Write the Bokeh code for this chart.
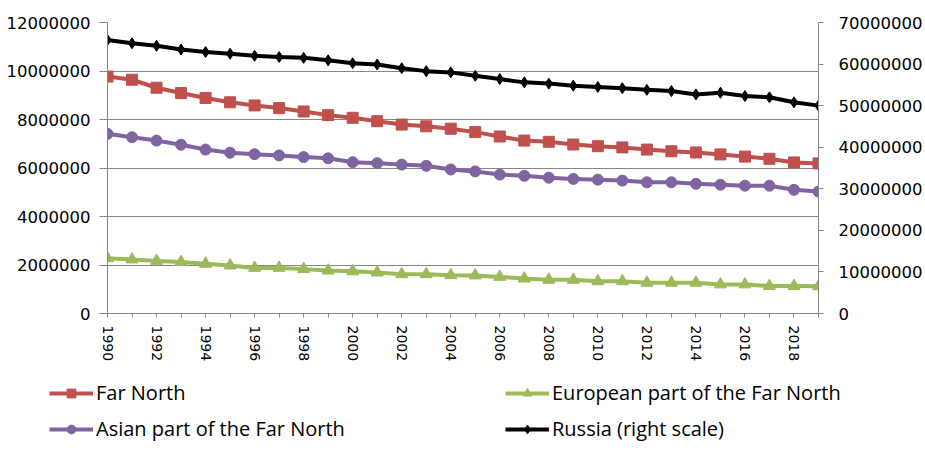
from bokeh.plotting import figure
from bokeh.models import (Range1d, LinearAxis, FixedTicker, NumeralTickFormatter,
                          Legend, LegendItem)
from bokeh.embed import file_html
from bokeh.resources import INLINE

years = [1990, 1991, 1992, 1993, 1994, 1995, 1996, 1997, 1998, 1999,
         2000, 2001, 2002, 2003, 2004, 2005, 2006, 2007, 2008, 2009,
         2010, 2011, 2012, 2013, 2014, 2015, 2016, 2017, 2018, 2019]
x_labels = ["1990", "", "1992", "", "1994", "", "1996", "", "1998", "",
            "2000", "", "2002", "", "2004", "", "2006", "", "2008", "",
            "2010", "", "2012", "", "2014", "", "2016", "", "2018", ""]

far_north = [9770000, 9640000, 9310000, 9090000, 8890000, 8710000, 8580000, 8470000, 8330000, 8180000,
             8070000, 7930000, 7790000, 7720000, 7620000, 7480000, 7300000, 7130000, 7080000, 6970000,
             6900000, 6850000, 6760000, 6690000, 6640000, 6560000, 6470000, 6380000, 6230000, 6190000]
european = [2280000, 2230000, 2170000, 2120000, 2050000, 1980000, 1880000, 1880000, 1830000, 1770000,
            1740000, 1690000, 1620000, 1620000, 1580000, 1570000, 1510000, 1440000, 1390000, 1390000,
            1330000, 1330000, 1270000, 1270000, 1270000, 1200000, 1200000, 1130000, 1130000, 1120000]
asian = [7410000, 7270000, 7130000, 6960000, 6760000, 6630000, 6570000, 6520000, 6450000, 6400000,
         6240000, 6200000, 6140000, 6090000, 5940000, 5860000, 5730000, 5680000, 5600000, 5550000,
         5520000, 5480000, 5410000, 5410000, 5350000, 5310000, 5270000, 5270000, 5100000, 5030000]
russia = [65800000, 65000000, 64400000, 63500000, 62900000, 62500000, 62000000, 61700000, 61500000, 60900000,
          60200000, 59900000, 59000000, 58300000, 58000000, 57200000, 56400000, 55600000, 55300000, 54800000,
          54500000, 54200000, 53800000, 53500000, 52700000, 53100000, 52300000, 52000000, 50800000, 50000000]

series_names = ["Far North", "Asian part of the Far North",
                "European part of the Far North", "Russia (right scale)"]

left_ticks = [0, 2000000, 4000000, 6000000, 8000000, 10000000, 12000000]
right_ticks = [0, 10000000, 20000000, 30000000, 40000000, 50000000, 60000000, 70000000]

RED = "#C0504D"
GREEN = "#9BBB59"
PURPLE = "#8064A2"
BLACK = "#000000"
GRAY = "#868686"

p = figure(frame_width=711, frame_height=291,
           min_border_left=107, min_border_right=106,
           min_border_top=22, min_border_bottom=57,
           x_range=Range1d(1990, 2019), y_range=Range1d(0, 12000000),
           output_backend="svg", toolbar_location=None,
           background_fill_color="white", border_fill_color="white")
p.outline_line_color = None
p.extra_y_ranges = {"right": Range1d(0, 70000000)}

# x axis
xa = p.xaxis[0]
xa.ticker = FixedTicker(ticks=years)
xa.major_label_overrides = {y: lab for y, lab in zip(years, x_labels)}
xa.major_label_orientation = "vertical"
xa.minor_tick_line_color = None
xa.major_tick_out = 4
xa.major_tick_in = 0
xa.major_label_standoff = 8
xa.axis_line_color = GRAY
xa.major_tick_line_color = GRAY
xa.major_label_text_font = "DejaVu Sans"
xa.major_label_text_font_size = "14px"
xa.major_label_text_color = "#000000"

# left axis
ya = p.yaxis[0]
ya.ticker = FixedTicker(ticks=left_ticks)
ya.formatter = NumeralTickFormatter(format="0")
ya.minor_tick_line_color = None
ya.major_tick_out = 8
ya.major_tick_in = 0
ya.major_label_standoff = 9
ya.axis_line_color = GRAY
ya.major_tick_line_color = GRAY
ya.major_label_text_font = "DejaVu Sans"
ya.major_label_text_font_size = "16.5px"
ya.major_label_text_color = "#000000"

# right axis
ra = LinearAxis(y_range_name="right", ticker=FixedTicker(ticks=right_ticks),
                formatter=NumeralTickFormatter(format="0"))
ra.minor_tick_line_color = None
ra.major_tick_out = 5
ra.major_tick_in = 0
ra.major_label_standoff = 15
ra.axis_line_color = GRAY
ra.major_tick_line_color = GRAY
ra.major_label_text_font = "DejaVu Sans"
ra.major_label_text_font_size = "16.5px"
ra.major_label_text_color = "#000000"
p.add_layout(ra, "right")

p.xgrid.visible = False
p.ygrid.ticker = FixedTicker(ticks=left_ticks)
p.ygrid.grid_line_color = GRAY
p.ygrid.grid_line_width = 1

styles = [
    dict(color=RED, marker="square", size=11),
    dict(color=PURPLE, marker="circle", size=11),
    dict(color=GREEN, marker="triangle", size=12),
    dict(color=BLACK, marker="diamond", size=11),
]

def draw(fig, xs, ys, st, **kw):
    ln = fig.line(xs, ys, line_color=st["color"], line_width=4, **kw)
    sc = fig.scatter(xs, ys, marker=st["marker"], size=st["size"],
                     fill_color=st["color"], line_color=st["color"], **kw)
    return ln, sc

draw(p, years, far_north, styles[0])
draw(p, years, european, styles[2])
draw(p, years, asian, styles[1])
draw(p, years, russia, styles[3], y_range_name="right")

# legend strip below the chart (its own root, so its frame is not aligned to the chart)
pl = figure(width=925, height=80, x_range=Range1d(0, 1), y_range=Range1d(0, 1),
            min_border_left=0, min_border_right=0, min_border_top=0, min_border_bottom=0,
            output_backend="svg", toolbar_location=None,
            background_fill_color="white", border_fill_color="white")
pl.outline_line_color = None
pl.xaxis.visible = False
pl.yaxis.visible = False
pl.grid.visible = False

series_data = [far_north, asian, european, russia]

def make_legend(names, datas, sts, loc):
    items = []
    for name, data, st in zip(names, datas, sts):
        # the series lie outside this strip's ranges; only their legend swatches show
        ln, sc = draw(pl, years, data, st)
        items.append(LegendItem(label=name, renderers=[ln, sc]))
    lg = Legend(items=items, location=loc)
    lg.padding = 0
    lg.margin = 0
    lg.border_line_color = None
    lg.background_fill_alpha = 0
    lg.glyph_width = 44
    lg.glyph_height = 22
    lg.label_height = 22
    lg.spacing = 9
    lg.label_standoff = 3
    lg.label_text_font = "Open Sans"
    lg.label_text_font_size = "20px"
    lg.label_text_color = "#000000"
    return lg

pl.add_layout(make_legend(series_names[:2], series_data[:2], styles[:2], (49, 8)))
pl.add_layout(make_legend(series_names[2:], series_data[2:], styles[2:], (505, 8)))

open("out.html", "w").write(file_html([p, pl], INLINE))
